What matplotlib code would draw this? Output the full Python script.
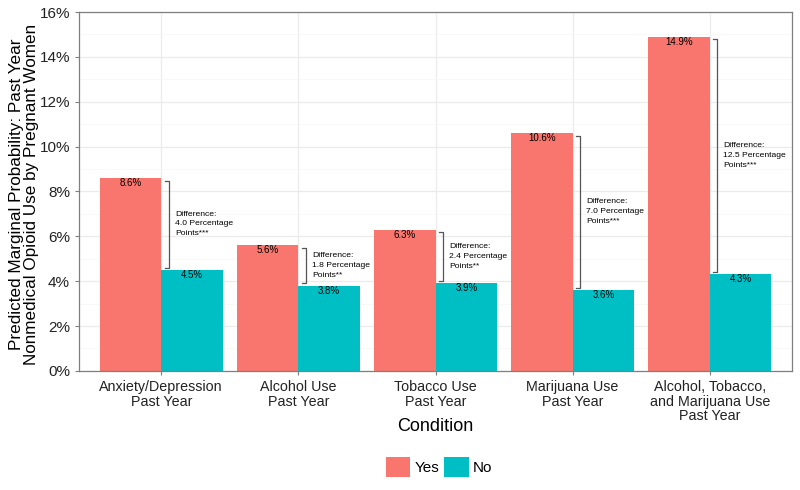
import numpy as np
import matplotlib.pyplot as plt

plt.rcParams['font.family'] = ['Liberation Sans', 'DejaVu Sans']

categories = ["Anxiety/Depression\nPast Year", "Alcohol Use\nPast Year", "Tobacco Use\nPast Year",
              "Marijuana Use\nPast Year", "Alcohol, Tobacco,\nand Marijuana Use\nPast Year"]
yes_vals = [8.6, 5.6, 6.3, 10.6, 14.9]
no_vals = [4.5, 3.8, 3.9, 3.6, 4.3]
diff_labels = ["Difference:\n4.0 Percentage\nPoints***", "Difference:\n1.8 Percentage\nPoints**",
               "Difference:\n2.4 Percentage\nPoints**", "Difference:\n7.0 Percentage\nPoints***",
               "Difference:\n12.5 Percentage\nPoints***"]

yes_col = "#F8766D"
no_col = "#00BFC4"

fig = plt.figure(figsize=(8, 4.9), dpi=100)
ax = fig.add_axes([0.09875, 0.243, 0.89125, 0.7325])

x = np.arange(1, len(categories) + 1)
w = 0.45
ax.bar(x - w / 2, yes_vals, w, color=yes_col, label="Yes", zorder=2)
ax.bar(x + w / 2, no_vals, w, color=no_col, label="No", zorder=2)

for i in range(len(x)):
    ax.text(x[i] - w / 2, yes_vals[i], f"{yes_vals[i]:.1f}%", ha='center', va='top', fontsize=7, zorder=3)
    ax.text(x[i] + w / 2, no_vals[i], f"{no_vals[i]:.1f}%", ha='center', va='top', fontsize=7, zorder=3)
    top = yes_vals[i] - 0.12
    bot = no_vals[i] + 0.1
    bx = x[i] + 0.055
    ax.plot([bx - 0.03, bx, bx, bx - 0.03], [top, top, bot, bot], color="#555555", lw=0.9, zorder=3)
    ax.text(x[i] + 0.1, (yes_vals[i] + no_vals[i]) / 2, diff_labels[i], ha='left', va='center',
            fontsize=6.1, linespacing=1.55, zorder=3)

ax.set_xlim(0.4, 5.6)
ax.set_ylim(0, 16)
ax.set_yticks(np.arange(0, 17, 2))
ax.set_yticklabels([f"{v}%" for v in range(0, 17, 2)])
ax.set_yticks(np.arange(1, 16, 2), minor=True)
ax.set_xticks(x)
ax.set_xticklabels(categories, fontsize=10.3, linespacing=1.05)
ax.grid(True, which='major', color="#EBEBEB", lw=0.9, zorder=0)
ax.grid(True, which='minor', axis='y', color="#F5F5F5", lw=0.5, zorder=0)
ax.tick_params(which='minor', length=0)
ax.tick_params(which='major', length=3, color="#7F7F7F", labelcolor="#222222")
ax.tick_params(axis='y', labelsize=11)
for s in ax.spines.values():
    s.set_color("#7F7F7F")
    s.set_linewidth(0.9)

ax.set_xlabel("Condition", fontsize=13, labelpad=-4)
fig.text(24 / 800, 0.604, "Predicted Marginal Probability: Past Year\nNonmedical Opioid Use by Pregnant Women",
         rotation=90, ha='center', va='center', fontsize=12.3, linespacing=1.0)

ax.legend(loc='center', bbox_to_anchor=(0.549, 0.047), bbox_transform=fig.transFigure, ncol=2,
          frameon=False, fontsize=11, handlelength=1.6, handleheight=1.6, columnspacing=0.3,
          handletextpad=0.3)

fig.savefig("out.png", dpi=100)
